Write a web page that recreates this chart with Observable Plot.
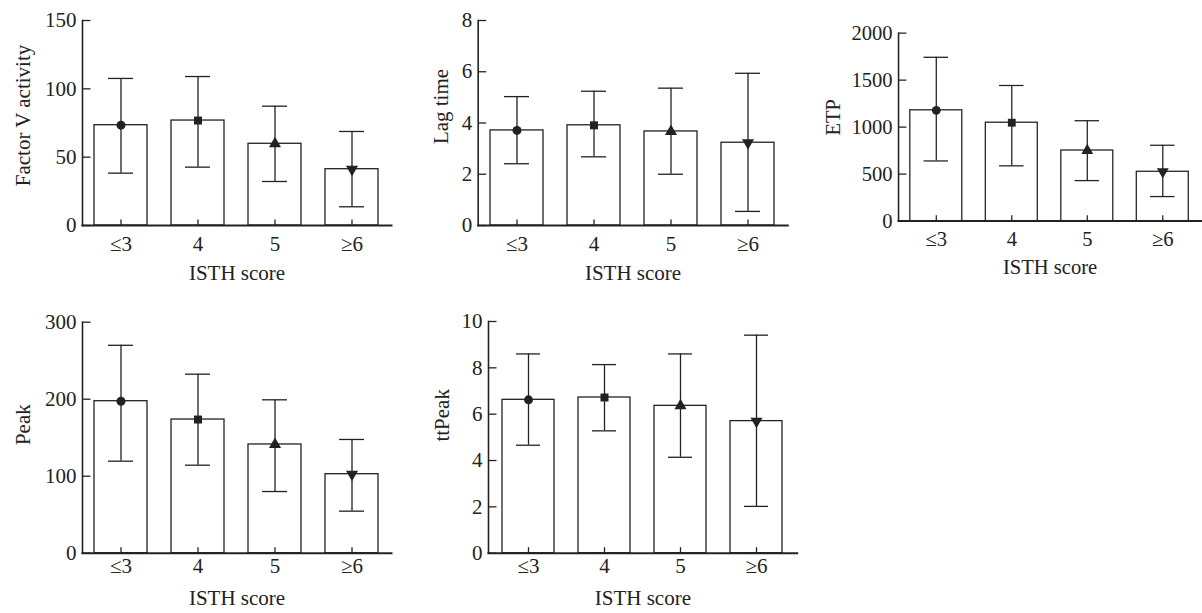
<!DOCTYPE html>
<html><head><meta charset="utf-8">
<script src="https://cdn.jsdelivr.net/npm/d3@7"></script>
<script src="https://cdn.jsdelivr.net/npm/@observablehq/plot@0.6"></script>
<style>
html,body{margin:0;padding:0;background:#fff;overflow:hidden;width:1202px;height:613px}
#root{position:relative;width:1202px;height:613px;overflow:hidden}
.panel{position:absolute}
</style></head><body><div id="root"></div><script>
// ---- data ----
const categories = ["≤3", "4", "5", "≥6"];
const xTitle = "ISTH score";

const factorVMean  = [73.4, 76.8, 59.8, 41.2];
const factorVLower = [38.3, 42.7, 32.2, 13.7];
const factorVUpper = [107.6, 109.0, 87.3, 68.8];
const factorVTicks = [0, 50, 100, 150];

const lagMean  = [3.71, 3.91, 3.67, 3.23];
const lagLower = [2.41, 2.68, 2.00, 0.55];
const lagUpper = [5.03, 5.24, 5.36, 5.94];
const lagTicks = [0, 2, 4, 6, 8];

const etpMean  = [1179, 1047, 751, 525];
const etpLower = [640, 588, 431, 261];
const etpUpper = [1743, 1443, 1068, 807];
const etpTicks = [0, 500, 1000, 1500, 2000];

const peakMean  = [197.4, 173.6, 141.2, 102.6];
const peakLower = [119.5, 114.3, 80.1, 54.6];
const peakUpper = [270.0, 232.5, 199.2, 147.7];
const peakTicks = [0, 100, 200, 300];

const ttPeakMean  = [6.62, 6.72, 6.36, 5.70];
const ttPeakLower = [4.66, 5.28, 4.14, 2.02];
const ttPeakUpper = [8.60, 8.14, 8.60, 9.41];
const ttPeakTicks = [0, 2, 4, 6, 8, 10];

// ---- drawing ----
const INK = "#222";
const FONT = "'Liberation Serif', 'Times New Roman', serif";
const tickUp = {draw(ctx) { ctx.moveTo(0, 0); ctx.lineTo(0, -6); }};
const tickRight = {draw(ctx) { ctx.moveTo(0, 0); ctx.lineTo(8, 0); }};

function panel(cfg) {
  const rows = categories.map((c, i) => ({cat: c, mean: cfg.mean[i], lower: cfg.lower[i], upper: cfg.upper[i]}));
  const yMax = cfg.ticks[cfg.ticks.length - 1];
  const chart = Plot.plot({
    width: cfg.width, height: cfg.height,
    marginLeft: cfg.mL, marginRight: cfg.mR, marginTop: cfg.mT, marginBottom: cfg.mB,
    style: {fontFamily: FONT, fontSize: "21px", color: INK, background: "transparent", overflow: "visible"},
    x: {domain: categories, paddingInner: 0.31, paddingOuter: 0.16},
    y: {domain: [0, yMax]},
    symbol: {domain: categories, range: ["circle", "square", "triangle", "triangle"]},
    marks: [
      Plot.barY(rows, {x: "cat", y: "mean", fill: "white", stroke: INK, strokeWidth: 1.3}),
      Plot.ruleX(rows, {x: "cat", y1: "lower", y2: "upper", stroke: INK, strokeWidth: 1.3}),
      Plot.tickY(rows, {x: "cat", y: "lower", insetLeft: 14, insetRight: 14, stroke: INK, strokeWidth: 1.3}),
      Plot.tickY(rows, {x: "cat", y: "upper", insetLeft: 14, insetRight: 14, stroke: INK, strokeWidth: 1.3}),
      Plot.dot(rows, {x: "cat", y: "mean", symbol: "cat", rotate: d => d.cat === "≥6" ? 180 : 0, fill: INK, stroke: "none", r: 4.5}),
      Plot.axisX({label: null, tickSize: 0, tickPadding: cfg.tickDy, lineAnchor: "middle", fill: INK}),
      Plot.axisY({label: null, ticks: cfg.ticks, tickSize: 0, tickPadding: 6, tickFormat: d => String(d), fill: INK}),
      Plot.dot(categories, {x: d => d, frameAnchor: "bottom", symbol: tickUp, fill: "none", stroke: INK, strokeWidth: 1.3}),
      Plot.dot(cfg.ticks, {y: d => d, frameAnchor: "left", symbol: tickRight, fill: "none", stroke: INK, strokeWidth: 1.3}),
      Plot.frame({anchor: "left", stroke: INK, strokeWidth: 1.6}),
      Plot.frame({anchor: "bottom", stroke: INK, strokeWidth: 2}),
      Plot.text([cfg.label], {text: d => d, frameAnchor: "left", rotate: -90, dx: cfg.labelDx, dy: cfg.labelDy, textAnchor: "middle", lineAnchor: "middle", fill: INK}),
      Plot.text([xTitle], {text: d => d, frameAnchor: "bottom", dy: cfg.titleDy, textAnchor: "middle", lineAnchor: "middle", fill: INK})
    ]
  });
  const div = document.createElement("div");
  div.className = "panel";
  div.style.left = cfg.left + "px";
  div.style.top = cfg.top + "px";
  div.appendChild(chart);
  document.getElementById("root").appendChild(div);
}

panel({label: "Factor V activity", mean: factorVMean, lower: factorVLower, upper: factorVUpper, ticks: factorVTicks,
  left: 0, top: 0, width: 400, height: 300, mL: 82, mR: 9, mT: 20, mB: 75, labelDx: -59, labelDy: -7.5, tickDy: 19, titleDy: 47.5});
panel({label: "Lag time", mean: lagMean, lower: lagLower, upper: lagUpper, ticks: lagTicks,
  left: 400, top: 0, width: 400, height: 300, mL: 77.7, mR: 12.7, mT: 20, mB: 75, labelDx: -36.7, labelDy: -16.5, tickDy: 19, titleDy: 47.5});
panel({label: "ETP", mean: etpMean, lower: etpLower, upper: etpUpper, ticks: etpTicks,
  left: 800, top: 0, width: 410, height: 300, mL: 100, mR: 1, mT: 33.3, mB: 75, labelDx: -66.5, labelDy: -10, tickDy: 19, titleDy: 47.5});
panel({label: "Peak", mean: peakMean, lower: peakLower, upper: peakUpper, ticks: peakTicks,
  left: 0, top: 300, width: 400, height: 313, mL: 82, mR: 9, mT: 21.7, mB: 60.3, labelDx: -59, labelDy: -13, tickDy: 13.5, titleDy: 45.3});
panel({label: "ttPeak", mean: ttPeakMean, lower: ttPeakLower, upper: ttPeakUpper, ticks: ttPeakTicks,
  left: 400, top: 300, width: 400, height: 313, mL: 88, mR: 3.3, mT: 21, mB: 60.3, labelDx: -46, labelDy: -22, tickDy: 13.5, titleDy: 45.3});
</script></body></html>
